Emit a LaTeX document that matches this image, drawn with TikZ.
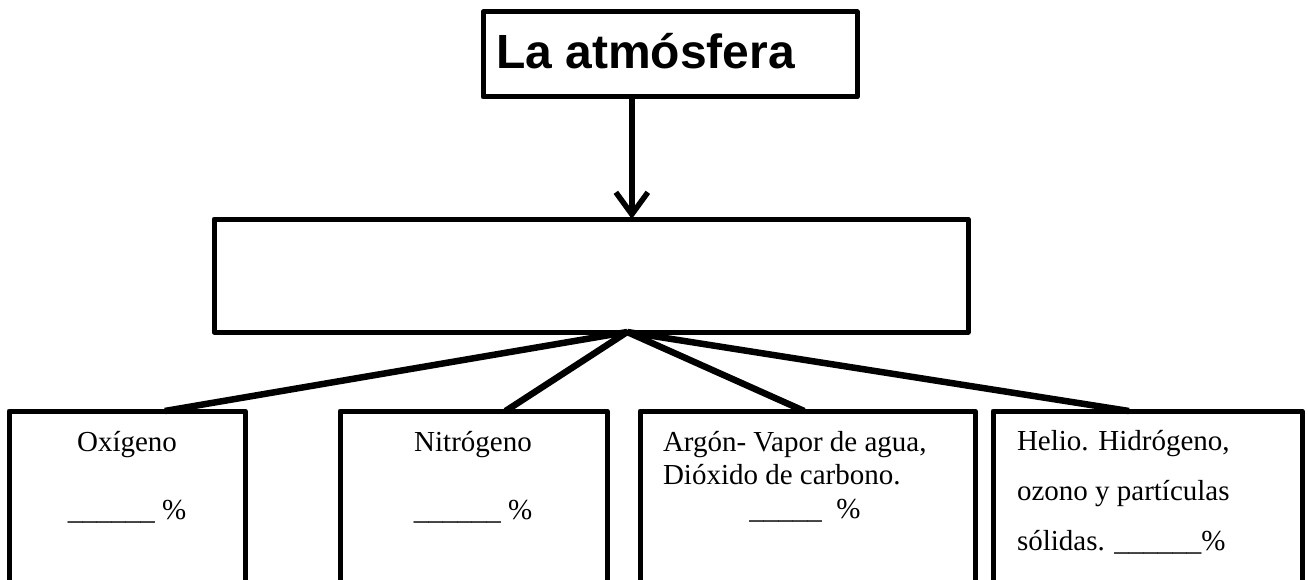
\documentclass[tikz,border=0pt]{standalone}
\usepackage{fontspec}
\setmainfont{Liberation Serif}
\newfontfamily\headfont{Liberation Sans}
\usetikzlibrary{arrows.meta,calc}
\tikzset{
  boxline/.style={draw=black, line width=5pt, rectangle, outer sep=0pt, inner sep=0pt, line join=round},
  body/.style={font=\fontsize{29}{33}\selectfont, inner sep=0pt, outer sep=0pt},
  branch/.style={line width=6.5pt},
  mainarrow/.style={line width=5.5pt, -{Straight Barb[length=22pt,width=32pt]}},
}
\begin{document}
\begin{tikzpicture}[x=1pt,y=-1pt]
\useasboundingbox (0,0) rectangle (1308,580);
\clip (0,0) rectangle (1308,580);
% title
\node[boxline, minimum width=374pt, minimum height=85pt, anchor=north west] (title) at (483,12) {};
\node[anchor=base west, inner sep=0pt, font=\headfont\bfseries\fontsize{48}{56}\selectfont] (titletext) at (496,69) {La atmósfera};
% middle
\node[boxline, minimum width=754pt, minimum height=113pt, anchor=north west] (mid) at (214,219) {};
% bottom boxes
\node[boxline, minimum width=236pt, minimum height=260pt, anchor=north west] (b1) at (9,411) {};
\node[boxline, minimum width=267pt, minimum height=260pt, anchor=north west] (b2) at (340,411) {};
\node[boxline, minimum width=335pt, minimum height=260pt, anchor=north west] (b3) at (640,411) {};
\node[boxline, minimum width=309pt, minimum height=260pt, anchor=north west] (b4) at (993,411) {};
% texts
\node[body, anchor=base] (t1a) at (127,451) {Oxígeno};
\node[body, anchor=base] (t1b) at (127,519) {\_\_\_\_\_\_ \%};
\node[body, anchor=base] (t2a) at (473,451) {Nitrógeno};
\node[body, anchor=base] (t2b) at (473,519) {\_\_\_\_\_\_ \%};
\node[body, anchor=base west] (t3a) at (663,451) {Argón- Vapor de agua,};
\node[body, anchor=base west] (t3b) at (663,484) {Dióxido de carbono.};
\node[body, anchor=base] (t3c) at (805,518) {\_\_\_\_\_~~\%};
\node[body, anchor=base west] (t4a) at (1017,450) {Helio. Hidrógeno,};
\node[body, anchor=base west] (t4b) at (1017,500) {ozono y partículas};
\node[body, anchor=base west] (t4c) at (1017,550) {sólidas. \_\_\_\_\_\_\%};
% arrow
\coordinate (arrtop) at ($(title.south west)!0.398!(title.south east)$);
\coordinate (arrbot) at (arrtop |- mid.north);
\draw[mainarrow] (arrtop) -- (arrbot);
% branches
\coordinate (hub) at ($(mid.south west)!0.548!(mid.south east)$);
\draw[branch] (hub) -- ($(b1.north west)!0.66!(b1.north east)$);
\draw[branch] (hub) -- ($(b2.north west)!0.62!(b2.north east)$);
\draw[branch] (hub) -- ($(b3.north west)!0.49!(b3.north east)$);
\draw[branch] (hub) -- ($(b4.north west)!0.44!(b4.north east)$);
\end{tikzpicture}
\end{document}
